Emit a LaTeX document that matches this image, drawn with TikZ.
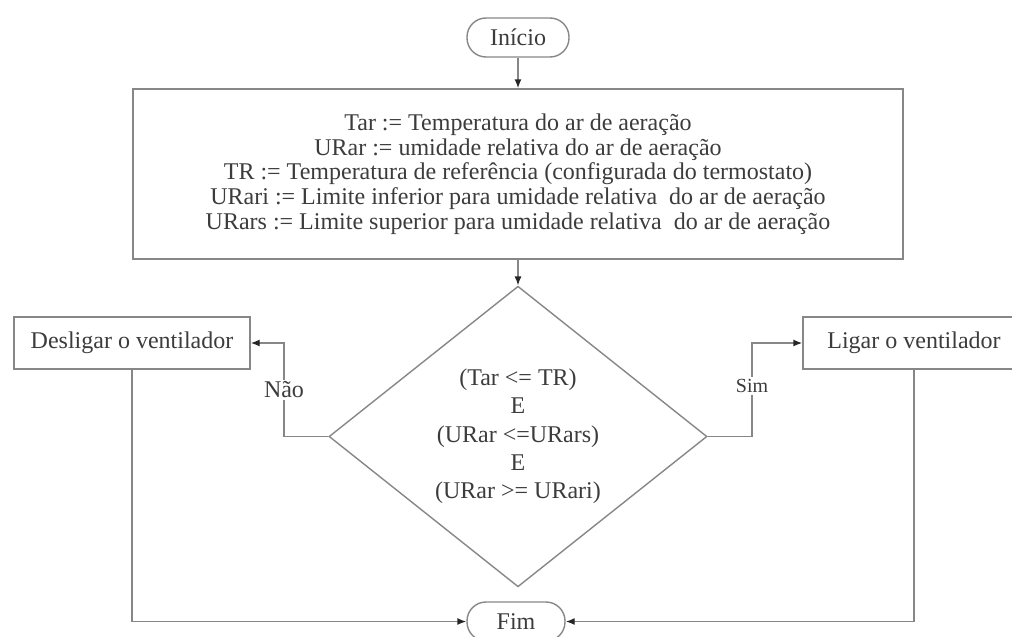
\documentclass[tikz,border=0pt]{standalone}
\usepackage{fontspec}
\setmainfont{Liberation Serif}
\usetikzlibrary{shapes.geometric,arrows.meta}
\definecolor{lc}{RGB}{135,135,135}
\definecolor{tc}{RGB}{60,60,60}
\begin{document}
\begin{tikzpicture}[x=1pt,y=-1pt,
  box/.style={draw=lc, line width=1.4pt, fill=white, text=tc,
    font=\fontsize{24}{24.7}\selectfont, inner sep=0pt, align=center},
  term/.style={box, rounded corners=19pt},
  conn/.style={draw=lc, line width=1.4pt, -{Latex[length=9pt,width=7pt,color=black!85]}},
  lbl/.style={fill=white, text=tc, inner sep=2pt, font=\fontsize{24}{24}\selectfont}]
\useasboundingbox (0,0) rectangle (1012,637);
\node[term, minimum width=102pt, minimum height=39pt] (start) at (518,37.5) {Início};
\node[box, minimum width=770pt, minimum height=170pt] (vars) at (518,174)
  {Tar := Temperatura do ar de aeração\\
   URar := umidade relativa do ar de aeração\\
   TR := Temperatura de referência (configurada do termostato)\\
   URari := Limite inferior para umidade relativa~ do ar de aeração\\
   URars := Limite superior para umidade relativa~ do ar de aeração};
\node[box, diamond, minimum width=378pt, minimum height=273pt,
  font=\fontsize{24}{28.3}\selectfont] (dec) at (518,436.5)
  {(Tar <= TR)\\E\\(URar <=URars)\\E\\(URar >= URari)};
\node[box, minimum width=236pt, minimum height=52pt] (off) at (132,343) {Desligar o ventilador};
\node[box, minimum width=222pt, minimum height=52pt] (on) at (914,343) {Ligar o ventilador};
\node[term, minimum width=98pt, minimum height=39pt] (end) at (516,621.5) {Fim};
\coordinate (nb) at (284,436.5);
\coordinate (sb) at (752,436.5);
\draw[conn] (start) -- (vars);
\draw[conn] (vars) -- (dec);
\draw[conn] (dec.west) -- (nb) |- node[lbl, pos=0.25] {Não} (off.east);
\draw[conn] (dec.east) -- (sb) |- node[lbl, pos=0.27, font=\fontsize{20}{20}\selectfont] {Sim} (on.west);
\draw[conn] (off.south) |- (end.west);
\draw[conn] (on.south) |- (end.east);
\end{tikzpicture}
\end{document}
